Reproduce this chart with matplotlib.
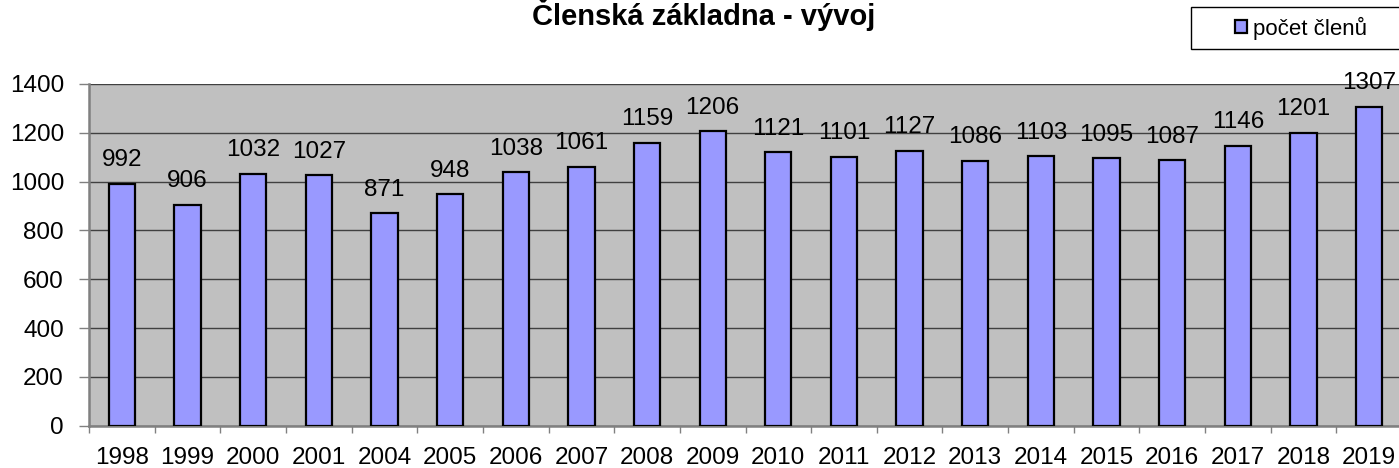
import matplotlib
matplotlib.use("Agg")
import matplotlib.pyplot as plt
from matplotlib.patches import Rectangle
import numpy as np

years = ["1998", "1999", "2000", "2001", "2004", "2005", "2006", "2007", "2008", "2009",
         "2010", "2011", "2012", "2013", "2014", "2015", "2016", "2017", "2018", "2019"]
members = [992, 906, 1032, 1027, 871, 948, 1038, 1061, 1159, 1206,
           1121, 1101, 1127, 1086, 1103, 1095, 1087, 1146, 1201, 1307]
series_name = "počet členů"
title = "Členská základna - vývoj"

plt.rcParams['font.family'] = ['Liberation Sans', 'DejaVu Sans']

W, H = 1399, 468
fig = plt.figure(figsize=(W / 100, H / 100), dpi=100)
left, right, top, bottom = 89, 1402, 84, 425.7
ax = fig.add_axes([left / W, 1 - bottom / H, (right - left) / W, (bottom - top) / H])

FS = 17.5
x = np.arange(len(years))
bars = ax.bar(x, members, width=0.4, color="#9999FF", edgecolor="black", linewidth=1.6, zorder=3)
ax.set_facecolor("#C0C0C0")
ax.set_xlim(-0.5, len(years) - 0.5)
ax.set_ylim(0, 1400)
ax.set_yticks(range(0, 1401, 200))
ax.yaxis.grid(True, color="#404040", linewidth=1.0, zorder=1)
ax.set_axisbelow(True)

ax.set_xticks(np.arange(-0.5, len(years), 1.0))
ax.set_xticklabels([])
ax.set_xticks(x, minor=True)
ax.set_xticklabels(years, minor=True)
ax.tick_params(axis="x", which="major", length=5, width=1, color="#808080", direction="out")
ax.tick_params(axis="x", which="minor", length=0, pad=15, labelsize=FS)
ax.tick_params(axis="y", length=7, width=1, color="#808080", pad=11, labelsize=FS)

for s in ["top", "right"]:
    ax.spines[s].set_visible(False)
for s in ["left", "bottom"]:
    ax.spines[s].set_color("#808080")
    ax.spines[s].set_linewidth(1.8)

for xi, v in zip(x, members):
    ax.annotate(str(v), (xi, v), xytext=(0, 9), textcoords="offset points",
                ha="center", va="bottom", fontsize=FS, zorder=4)

fig.text(704 / W, 1 - 25 / H, title, ha="center", va="baseline", fontsize=21, fontweight="bold")

# legend box (extends beyond right edge, as in the reference)
fig.patches.append(Rectangle((1191 / W, 1 - 49 / H), (1420 - 1191) / W, 42 / H,
                             transform=fig.transFigure, facecolor="white",
                             edgecolor="black", linewidth=1.0, zorder=5))
leg = fig.legend([bars], [series_name], loc="center left",
                 bbox_to_anchor=(1235 / W, 1 - 28 / H), bbox_transform=fig.transFigure,
                 borderaxespad=0, borderpad=0, frameon=False, fontsize=16,
                 handlelength=0.55, handleheight=0.55, handletextpad=0.25)
leg.set_zorder(6)

fig.savefig("out.png", dpi=100)
